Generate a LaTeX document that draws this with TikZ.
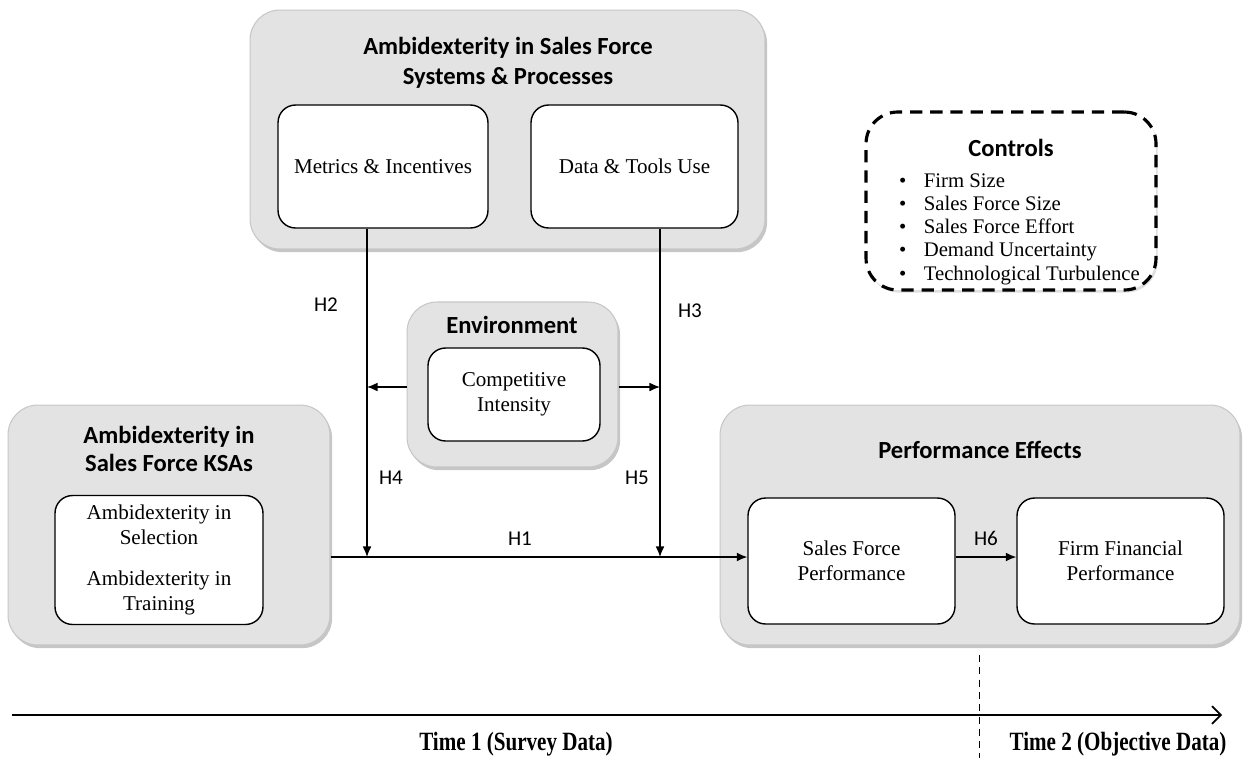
\documentclass[tikz,border=0pt]{standalone}
\usepackage{fontspec}
\setmainfont{Liberation Serif}
\newfontfamily\headfont{Carlito}
\newfontfamily\timefont[FakeStretch=0.8]{Liberation Serif}
\usetikzlibrary{arrows.meta,shadows}

\begin{document}
\begin{tikzpicture}[x=0.02cm, y=-0.02cm, >={Latex[length=6pt,width=5pt]},
  group/.style={draw=black!22, fill=black!11, line width=0.6pt, rounded corners=17pt,
    drop shadow={shadow xshift=1.2pt, shadow yshift=-1.8pt, opacity=0.45}},
  inbox/.style={draw, fill=white, line width=0.8pt, rounded corners=10pt, align=center,
    font=\fontsize{12}{14.3}\selectfont},
  head/.style={align=center, font=\headfont\bfseries\fontsize{14}{17}\selectfont},
  hyp/.style={font=\headfont\fontsize{12}{14}\selectfont},
  link/.style={line width=0.7pt},
  ctrlbox/.style={draw, line width=1.8pt, dash pattern=on 7pt off 4.5pt, rounded corners=18pt,
    fill=white, drop shadow={shadow xshift=1pt, shadow yshift=-1.5pt, opacity=0.25}},
  timelbl/.style={font=\timefont\bfseries\fontsize{15}{17}\selectfont}]
\useasboundingbox (0,0) rectangle (1243,758);

% systems & processes
\node[group, minimum width=10.3cm, minimum height=4.78cm] (sys) at (507.5,129.5) {};
\node[head] (systitle) at (508,63) {Ambidexterity in Sales Force\\Systems \& Processes};
\node[inbox, minimum width=4.2cm, minimum height=2.46cm] (metrics) at (383,166.5) {Metrics \& Incentives};
\node[inbox, minimum width=4.14cm, minimum height=2.46cm] (tools) at (634.5,166.5) {Data \& Tools Use};

% controls
\node[ctrlbox, minimum width=5.8cm, minimum height=3.56cm] (ctrl) at (1011,201) {};
\node[head] (ctrltitle) at (1011,148) {Controls};
\node[anchor=west, align=left, font=\fontsize{11.8}{13.2}\selectfont] (ctrlitems) at (893,229)
  {\makebox[14pt][l]{\textbullet}Firm Size\\
   \makebox[14pt][l]{\textbullet}Sales Force Size\\
   \makebox[14pt][l]{\textbullet}Sales Force Effort\\
   \makebox[14pt][l]{\textbullet}Demand Uncertainty\\
   \makebox[14pt][l]{\textbullet}Technological Turbulence};

% environment
\node[group, minimum width=4.22cm, minimum height=3.3cm] (env) at (512.5,384.5) {};
\node[head] (envtitle) at (512,325) {Environment};
\node[inbox, minimum width=3.44cm, minimum height=1.86cm] (compint) at (514,394.5) {Competitive\\Intensity};

% KSAs
\node[group, minimum width=6.44cm, minimum height=4.8cm] (ksa) at (169,525) {};
\node[head, font=\headfont\bfseries\fontsize{14}{16}\selectfont] (ksatitle) at (169,449) {Ambidexterity in\\Sales Force KSAs};
\node[inbox, minimum width=4.16cm, minimum height=2.58cm] (ksain) at (159,560)
  {Ambidexterity in\\Selection\\[9pt]Ambidexterity in\\Training};

% performance effects
\node[group, minimum width=10.4cm, minimum height=4.8cm] (perf) at (980,525) {};
\node[head] (perftitle) at (980,450) {Performance Effects};
\node[inbox, minimum width=4.14cm, minimum height=2.52cm] (sfp) at (851.5,561) {Sales Force\\Performance};
\node[inbox, minimum width=4.14cm, minimum height=2.52cm] (ffp) at (1120.5,561) {Firm Financial\\Performance};

% paths
\coordinate (j2) at (367,557);
\coordinate (j3) at (660,557);
\coordinate (m2) at (367,387);
\coordinate (m3) at (660,387);
\draw[link, ->] (metrics.south -| j2) -- (j2);
\draw[link, ->] (tools.south -| j3) -- (j3);
\draw[link, ->] (env.west |- m2) -- (m2);
\draw[link, ->] (env.east |- m3) -- (m3);
\draw[link, ->] (ksa.east |- j2) -- (sfp.west |- j2);
\draw[link, ->] (sfp.east |- j3) -- (ffp.west |- j3);

\node[hyp] (h2) at (326,305) {H2};
\node[hyp] (h3) at (690,311) {H3};
\node[hyp] (h4) at (391,478) {H4};
\node[hyp] (h5) at (637,478) {H5};
\node[hyp] (h1) at (520,539) {H1};
\node[hyp] (h6) at (986,538) {H6};

% time line
\coordinate (t0) at (12,715);
\coordinate (t1) at (1222,715);
\coordinate (d0) at (979,655);
\coordinate (d1) at (979,758);
\draw[line width=1pt, -{Straight Barb[length=5pt,width=10pt]}] (t0) -- (t1);
\draw[line width=0.5pt, dash pattern=on 4pt off 3pt] (d0) -- (d1);
\node[timelbl] (time1) at (516,744) {Time 1 (Survey Data)};
\node[timelbl] (time2) at (1118,744) {Time 2 (Objective Data)};
\end{tikzpicture}
\end{document}
